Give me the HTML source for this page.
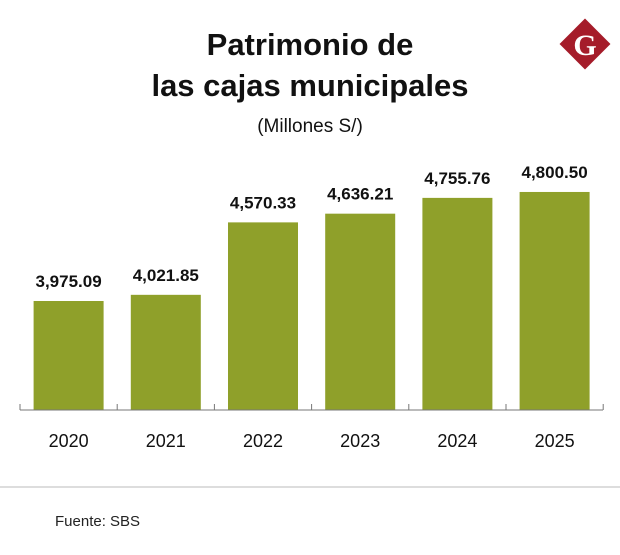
<!DOCTYPE html>
<html><head><meta charset="utf-8"><style>
body{margin:0;background:#fff;}
svg{display:block;font-family:"Liberation Sans",sans-serif;}
</style></head><body>
<svg width="620" height="555" viewBox="0 0 620 555">
<text x="310" y="55" text-anchor="middle" font-size="31" font-weight="bold" fill="#111">Patrimonio de</text>
<text x="310" y="96" text-anchor="middle" font-size="31" font-weight="bold" fill="#111">las cajas municipales</text>
<text x="310" y="132" text-anchor="middle" font-size="19" fill="#111">(Millones S/)</text>
<g>
<rect x="567" y="26" width="36" height="36" fill="#a51c2a" transform="rotate(45 585 44)"/>
<text x="585" y="55" text-anchor="middle" font-family="Liberation Serif,serif" font-weight="bold" font-size="30" fill="#fff">G</text>
</g>
<g id="bars"></g>
<line x1="20" y1="410" x2="603" y2="410" stroke="#777" stroke-width="1"/>
<g id="ticks"></g>
<line x1="0" y1="487" x2="620" y2="487" stroke="#bbb" stroke-width="1"/>
<text x="55" y="526" font-size="15" fill="#222">Fuente: SBS</text>
</svg>
<script>
const categories=["2020","2021","2022","2023","2024","2025"];
const values=[3975.09,4021.85,4570.33,4636.21,4755.76,4800.50];
const labels=["3,975.09","4,021.85","4,570.33","4,636.21","4,755.76","4,800.50"];
const NS="http://www.w3.org/2000/svg";
const base=410,x0=20,step=97.2,bw=70;
const yMin=3150,k=0.1321;
const y=v=>base-(v-yMin)*k;
const g=document.getElementById('bars');
categories.forEach((c,i)=>{
 const cx=x0+step*(i+0.5);
 const r=document.createElementNS(NS,'rect');
 r.setAttribute('x',cx-bw/2);r.setAttribute('width',bw);
 r.setAttribute('y',y(values[i]));r.setAttribute('height',base-y(values[i]));
 r.setAttribute('fill','#8fa02a');
 
 
 g.appendChild(r);
 const t=document.createElementNS(NS,'text');
 t.setAttribute('x',cx);t.setAttribute('y',y(values[i])-14);
 t.setAttribute('text-anchor','middle');t.setAttribute('font-size','17');t.setAttribute('font-weight','bold');t.setAttribute('fill','#111');
 t.textContent=labels[i];
 
 
 g.appendChild(t);
 const l=document.createElementNS(NS,'text');
 l.setAttribute('x',cx);l.setAttribute('y',447);
 l.setAttribute('text-anchor','middle');l.setAttribute('font-size','18');l.setAttribute('fill','#111');
 l.textContent=c;
 
 
 g.appendChild(l);
});
const tg=document.getElementById('ticks');
for(let i=0;i<=categories.length;i++){
 const tk=document.createElementNS(NS,'line');
 const x=x0+step*i;
 tk.setAttribute('x1',x);tk.setAttribute('x2',x);tk.setAttribute('y1',404);tk.setAttribute('y2',410);
 tk.setAttribute('stroke','#777');
 
 
 tg.appendChild(tk);
}
</script>
</body></html>
